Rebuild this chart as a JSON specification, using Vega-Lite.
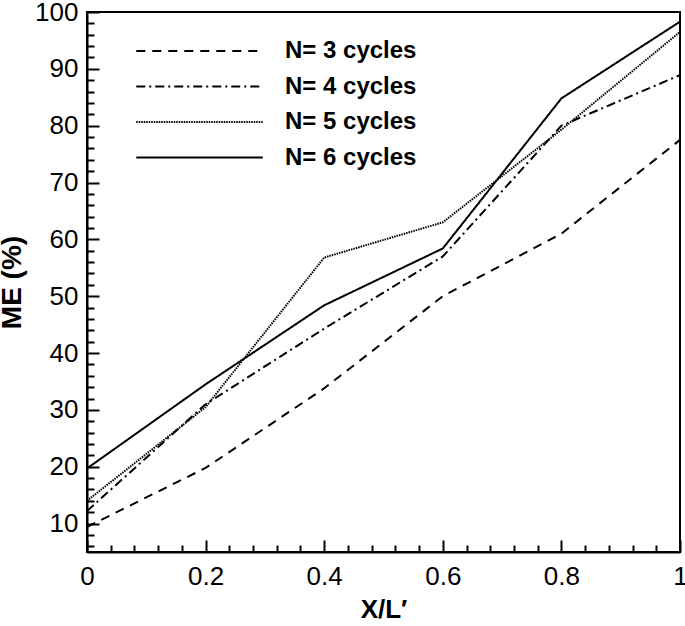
{
  "$schema": "https://vega.github.io/schema/vega-lite/v6.json",
  "autosize": "none",
  "width": 593,
  "height": 540,
  "padding": {"left": 87, "top": 12, "right": 5, "bottom": 74},
  "background": "white",
  "config": {
    "font": "Liberation Sans",
    "view": {"stroke": "black", "strokeWidth": 2},
    "axis": {"grid": false, "domainColor": "black", "domainWidth": 2, "tickColor": "black", "tickWidth": 2, "labelColor": "black", "titleColor": "black", "labelFont": "Liberation Sans", "titleFont": "Liberation Sans"}
  },
  "data": {
    "values": [
      {"x": 0, "me": 9.4, "series": "N= 3 cycles"},
      {"x": 0.2, "me": 19.8, "series": "N= 3 cycles"},
      {"x": 0.4, "me": 33.8, "series": "N= 3 cycles"},
      {"x": 0.6, "me": 50, "series": "N= 3 cycles"},
      {"x": 0.8, "me": 61, "series": "N= 3 cycles"},
      {"x": 1, "me": 77.5, "series": "N= 3 cycles"},
      {"x": 0, "me": 12.2, "series": "N= 4 cycles"},
      {"x": 0.2, "me": 31, "series": "N= 4 cycles"},
      {"x": 0.4, "me": 44.3, "series": "N= 4 cycles"},
      {"x": 0.6, "me": 57, "series": "N= 4 cycles"},
      {"x": 0.8, "me": 80, "series": "N= 4 cycles"},
      {"x": 1, "me": 88.9, "series": "N= 4 cycles"},
      {"x": 0, "me": 14, "series": "N= 5 cycles"},
      {"x": 0.2, "me": 30.5, "series": "N= 5 cycles"},
      {"x": 0.4, "me": 56.8, "series": "N= 5 cycles"},
      {"x": 0.6, "me": 63, "series": "N= 5 cycles"},
      {"x": 0.8, "me": 79.3, "series": "N= 5 cycles"},
      {"x": 1, "me": 96.5, "series": "N= 5 cycles"},
      {"x": 0, "me": 19.7, "series": "N= 6 cycles"},
      {"x": 0.2, "me": 34.5, "series": "N= 6 cycles"},
      {"x": 0.4, "me": 48.4, "series": "N= 6 cycles"},
      {"x": 0.6, "me": 58.4, "series": "N= 6 cycles"},
      {"x": 0.8, "me": 84.8, "series": "N= 6 cycles"},
      {"x": 1, "me": 98.3, "series": "N= 6 cycles"}
    ]
  },
  "layer": [
    {
      "mark": {"type": "line", "color": "black", "clip": true},
      "encoding": {
        "x": {"field": "x", "type": "quantitative", "scale": {"domain": [0, 1], "nice": false},
          "axis": {"orient": "bottom", "values": [0, 0.2, 0.4, 0.6, 0.8, 1], "format": "~g", "tickSize": -12, "labelFontSize": 26, "labelPadding": 23, "labelFlush": false, "title": "X/L\u2032", "titleFontSize": 26, "titleFontWeight": "bold", "titlePadding": 7}},
        "y": {"field": "me", "type": "quantitative", "scale": {"domain": [5, 100], "nice": false, "zero": false},
          "axis": {"orient": "left", "values": [10, 20, 30, 40, 50, 60, 70, 80, 90, 100], "tickSize": -12, "labelFontSize": 26, "labelPadding": 21, "labelFlush": false, "title": "ME (%)", "titleFontSize": 28, "titleFontWeight": "bold", "titlePadding": 8}},
        "strokeDash": {"field": "series", "type": "nominal",
          "scale": {"domain": ["N= 3 cycles", "N= 4 cycles", "N= 5 cycles", "N= 6 cycles"], "range": [[9, 7], [9, 4, 2, 4], [1.5, 1], [1, 0]]},
          "legend": {"orient": "none", "legendX": 48, "legendY": 29, "title": null, "symbolType": "stroke", "symbolSize": 16000, "symbolStrokeColor": "black", "symbolStrokeWidth": 2, "clipHeight": 20, "labelFontSize": 24, "labelFontWeight": "bold", "labelColor": "black", "labelOffset": 21, "rowPadding": 11.5}},
        "strokeWidth": {"field": "series", "type": "nominal", "scale": {"domain": ["N= 3 cycles", "N= 4 cycles", "N= 5 cycles", "N= 6 cycles"], "range": [2, 2, 1.5, 2]}, "legend": null}
      }
    },
    {
      "mark": {"type": "point", "opacity": 0},
      "encoding": {
        "x": {"field": "x", "type": "quantitative",
          "axis": {"orient": "bottom", "values": [0.04, 0.08, 0.12, 0.16, 0.24, 0.28, 0.32, 0.36, 0.44, 0.48, 0.52, 0.56, 0.64, 0.68, 0.72, 0.76, 0.84, 0.88, 0.92, 0.96], "tickSize": -7, "labels": false, "domain": false, "title": null}},
        "y": {"field": "me", "type": "quantitative",
          "axis": {"orient": "left", "values": [6, 8, 12, 14, 16, 18, 22, 24, 26, 28, 32, 34, 36, 38, 42, 44, 46, 48, 52, 54, 56, 58, 62, 64, 66, 68, 72, 74, 76, 78, 82, 84, 86, 88, 92, 94, 96, 98], "tickSize": -7, "labels": false, "domain": false, "title": null}}
      }
    }
  ],
  "resolve": {"axis": {"x": "independent", "y": "independent"}}
}
